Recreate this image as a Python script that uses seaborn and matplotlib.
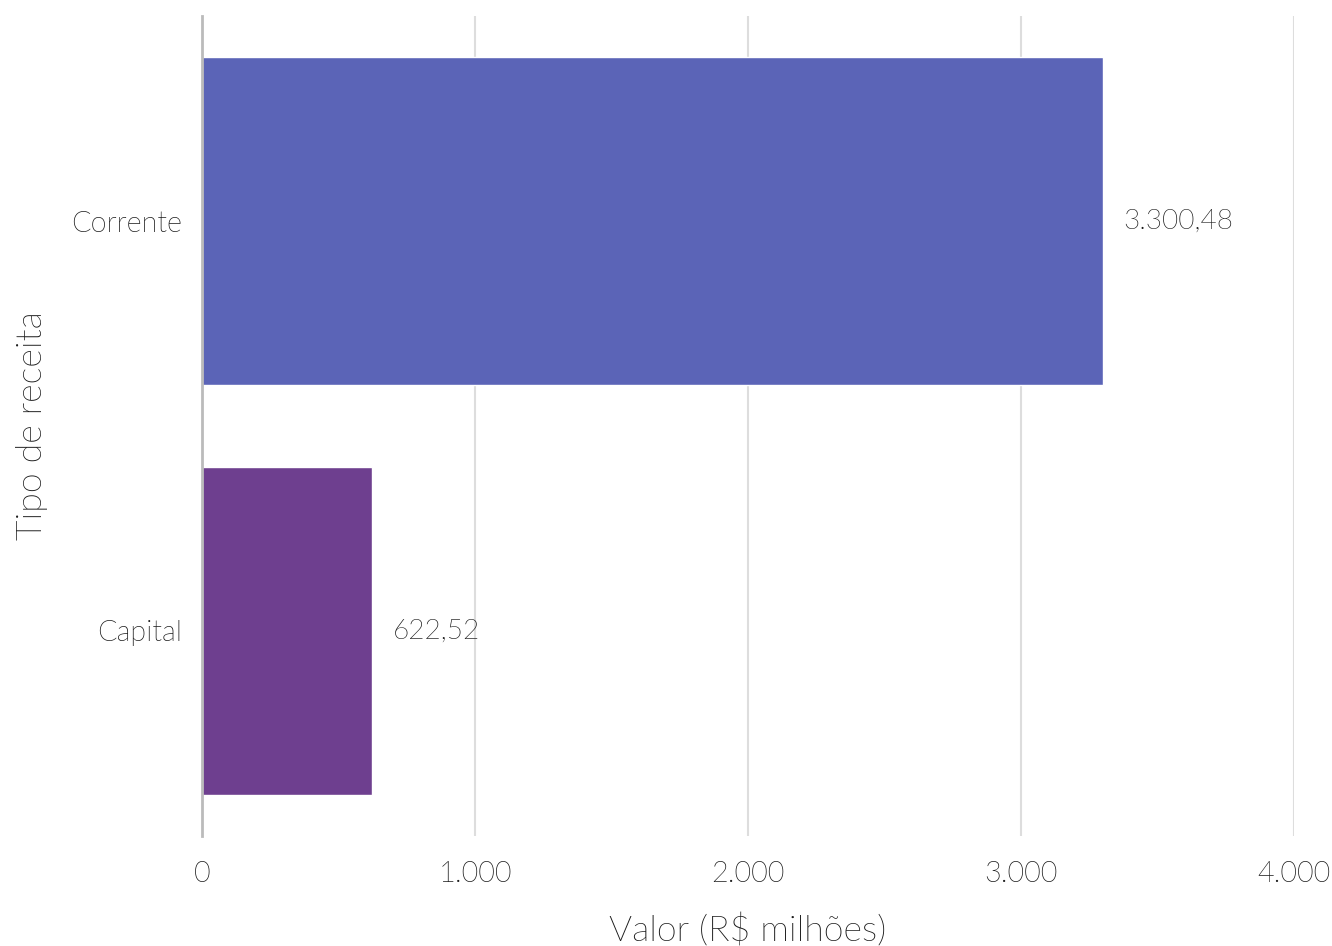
import numpy as np
import pandas as pd
import matplotlib
matplotlib.use('Agg')
import matplotlib.pyplot as plt
from matplotlib import font_manager
from matplotlib.ticker import FuncFormatter
import seaborn as sns

# dados
categorias = ['Corrente', 'Capital']
valores = [3300.48, 622.52]
cores = ['#5b64b7', '#6e3f8f']

df = pd.DataFrame({'tipo': categorias, 'valor': valores})

sns.set_style('white')
plt.rcParams['font.family'] = ['Lato', 'DejaVu Sans']

# procura o arquivo do Lato Light, se existir
light_path = None
for f in font_manager.fontManager.ttflist:
    nome = f.fname.lower()
    if f.name == 'Lato' and 'light' in nome and 'italic' not in nome:
        light_path = f.fname
        break


def fonte(size):
    if light_path:
        return font_manager.FontProperties(fname=light_path, size=size)
    return font_manager.FontProperties(family='Lato', size=size)


texto = '#1a1a1a'

fig = plt.figure(figsize=(13.32, 9.46), dpi=100)
ax = fig.add_axes([202 / 1332, 1 - 836 / 946, 1092 / 1332, 820 / 946])

sns.barplot(data=df, x='valor', y='tipo', hue='tipo', palette=cores,
            orient='h', width=0.8, legend=False, ax=ax, saturation=1)

ax.set_xlim(0, 4000)
ax.set_ylim(1.5, -0.5)
ax.set_xticks([0, 1000, 2000, 3000, 4000])


def fmt_milhar(v, pos=None):
    return f'{v:,.0f}'.replace(',', '.')


def fmt_br(v):
    s = f'{v:,.2f}'
    return s.replace(',', 'X').replace('.', ',').replace('X', '.')


ax.xaxis.set_major_formatter(FuncFormatter(fmt_milhar))
ax.grid(axis='x', color='#dddddd', linewidth=1.5)
ax.grid(axis='y', visible=False)
ax.set_axisbelow(True)
for s in ['top', 'right', 'bottom']:
    ax.spines[s].set_visible(False)
ax.spines['left'].set_color('#bbbbbb')
ax.spines['left'].set_linewidth(2)
ax.tick_params(axis='both', length=0, colors=texto)
ax.tick_params(axis='x', pad=18)
ax.tick_params(axis='y', pad=14)
for lbl in ax.get_xticklabels() + ax.get_yticklabels():
    lbl.set_fontproperties(fonte(20.8))

for i, v in enumerate(valores):
    ax.text(v + 75, i, fmt_br(v), va='center', ha='left',
            fontproperties=fonte(20.2), color=texto)

ax.set_xlabel('Valor (R$ milhões)', fontproperties=fonte(25.8),
              color=texto, labelpad=19)
ax.set_ylabel('Tipo de receita', fontproperties=fonte(25.8),
              color=texto, labelpad=17)

fig.savefig('out.png', dpi=100)
